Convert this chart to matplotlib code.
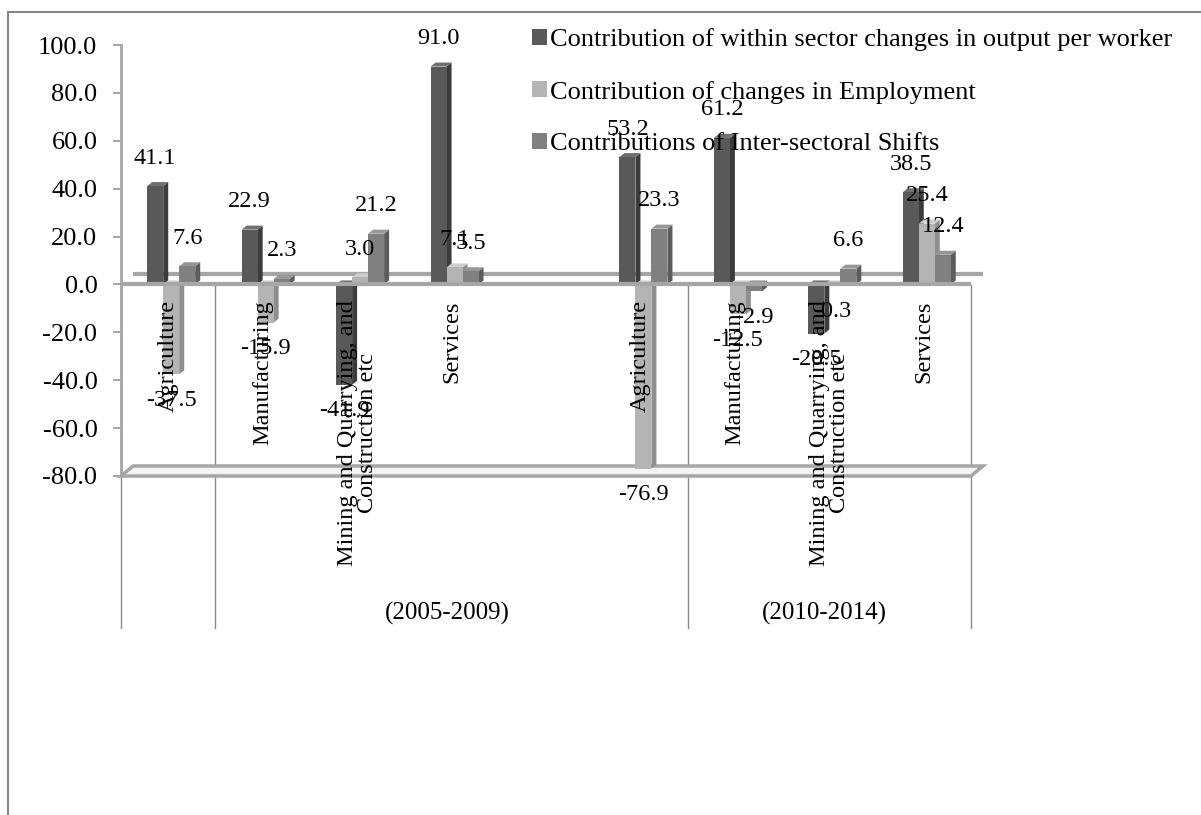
import matplotlib
matplotlib.use("Agg")
import matplotlib.pyplot as plt
from matplotlib.patches import Polygon, Rectangle
from matplotlib.lines import Line2D

plt.rcParams['font.family'] = ['Liberation Serif', 'DejaVu Serif']

# data
sectors = ["Agriculture", "Manufacturing",
           "Mining and Quarrying, and\nConstruction etc", "Services"]
periods = ["(2005-2009)", "(2010-2014)"]
series_names = ["Contribution of within sector changes in output per worker",
                "Contribution of changes in Employment",
                "Contributions of Inter-sectoral Shifts"]
within_2005 = [41.1, 22.9, -41.9, 91.0]
within_2010 = [53.2, 61.2, -20.5, 38.5]
employ_2005 = [-37.5, -15.9, 3.0, 7.1]
employ_2010 = [-76.9, -12.5, -0.3, 25.4]
shifts_2005 = [7.6, 2.3, 21.2, 5.5]
shifts_2010 = [23.3, -2.9, 6.6, 12.4]
slots = [0, 1, 2, 3, 5, 6, 7, 8]

series = [within_2005 + within_2010,
          employ_2005 + employ_2010,
          shifts_2005 + shifts_2010]
front = ['#595959', '#b4b4b4', '#808080']
side = ['#3c3c3c', '#8e8e8e', '#5c5c5c']
top = ['#707070', '#cdcdcd', '#969696']
edge = '#a6a6a6'

W, H = 1201, 815
fig = plt.figure(figsize=(W / 100, H / 100), dpi=100)
ax = fig.add_axes([121 / W, (H - 476) / H, 850 / W, 431 / H])
ax.set_xlim(-0.5, 8.5)
ax.set_ylim(-80, 100)

ux = 850 / 9      # pixels per x unit
uy = 431 / 180    # pixels per y unit

# chart frame (runs off the picture at right and bottom)
fig.add_artist(Line2D([8 / W, 1.0], [1 - 12 / H, 1 - 12 / H], color='#868686', lw=1.5))
fig.add_artist(Line2D([8 / W, 8 / W], [1 - 12 / H, 0], color='#868686', lw=1.5))

# back wall floor line and bottom plate
dxw, dyw = 12 / ux, 10 / uy
ax.plot([-0.5 + dxw, 8.5 + dxw], [dyw, dyw], color=edge, lw=3, zorder=1,
        clip_on=False, solid_capstyle='butt')
ax.add_patch(Polygon([(-0.5, -80), (-0.5 + dxw, -80 + dyw), (8.5 + dxw, -80 + dyw), (8.5, -80)],
                     closed=True, facecolor='#f4f4f4', edgecolor=edge, lw=2.5,
                     clip_on=False, zorder=1))

# bars with a little 3d side and top
w = 16 / ux
dx, dy = 5 / ux, 4 / uy
for k, vals in enumerate(series):
    for s, v in zip(slots, vals):
        c = s + (k - 1) * w + 3 / ux
        x0, x1 = c - w / 2, c + w / 2
        t = max(v, 0)
        ax.add_patch(Polygon([(x1, 0), (x1 + dx, dy), (x1 + dx, v + dy), (x1, v)],
                             closed=True, facecolor=side[k], edgecolor='none', zorder=2 + k))
        ax.add_patch(Polygon([(x0, t), (x0 + dx, t + dy), (x1 + dx, t + dy), (x1, t)],
                             closed=True, facecolor=top[k], edgecolor='none', zorder=2 + k))
        ax.bar(c, v, width=w, color=front[k], zorder=2 + k)
        off = 28 if v >= 0 else -26
        ax.annotate(f"{v:.1f}", (c, v), xytext=(0, off), textcoords='offset pixels',
                    ha='center', va='center', fontsize=17.5, zorder=10)

# front zero line
ax.plot([-0.5, 8.5], [0, 0], color=edge, lw=3, zorder=6, solid_capstyle='butt')

# category labels
xt = ax.get_xaxis_transform()
for s, name in zip(slots, sectors + sectors):
    ax.text(s, 0.408, name, transform=xt, rotation=90, ha='center', va='top',
            multialignment='center', fontsize=17.5, linespacing=0.95, zorder=7)
for g, name in zip([3, 7], periods):
    ax.text(g - 0.05, -0.318, name, transform=xt, ha='center', va='center', fontsize=18)
for xs in [-0.5, 0.5, 5.5, 8.5]:
    ax.plot([xs, xs], [0.443, -0.353], transform=xt, color='#8a8a8a', lw=1,
            clip_on=False, zorder=0)

# axes styling
for sp in ['top', 'right', 'bottom']:
    ax.spines[sp].set_visible(False)
ax.spines['left'].set_color(edge)
ax.spines['left'].set_linewidth(2)
ax.set_xticks([])
ax.set_yticks(range(-80, 101, 20))
ax.set_yticklabels([f"{v:.1f}" for v in range(-80, 101, 20)], fontsize=19)
ax.tick_params(axis='y', direction='out', length=6, width=1.5, color=edge, pad=11)
ax.patch.set_alpha(0)

# legend
handles = [Rectangle((0, 0), 1, 1, facecolor=front[k]) for k in range(3)]
fig.legend(handles, series_names, loc='upper left', bbox_to_anchor=(532 / W, 1 - 28 / H),
           frameon=False, fontsize=19, handlelength=0.55, handleheight=0.55,
           handletextpad=0.12, labelspacing=1.12, borderpad=0, borderaxespad=0)

fig.savefig('out.png', dpi=100)
